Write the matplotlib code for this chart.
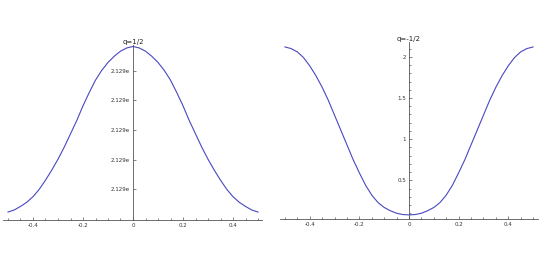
import matplotlib
matplotlib.use("Agg")
import matplotlib.pyplot as plt
from matplotlib.ticker import MultipleLocator

# x samples shared by both panels (step 0.025)
xs = [-0.5, -0.475, -0.45, -0.425, -0.4, -0.375, -0.35, -0.325, -0.3, -0.275,
      -0.25, -0.225, -0.2, -0.175, -0.15, -0.125, -0.1, -0.075, -0.05, -0.025,
      0.0,
      0.025, 0.05, 0.075, 0.1, 0.125, 0.15, 0.175, 0.2, 0.225, 0.25,
      0.275, 0.3, 0.325, 0.35, 0.375, 0.4, 0.425, 0.45, 0.475, 0.5]

# q=1/2 panel, values read relative to the tick positions (ticks sit at 1..5)
yPosHalf = [0.22, 0.29, 0.41, 0.55, 0.74, 0.99, 1.30, 1.64, 2.01, 2.42,
            2.87, 3.32, 3.82, 4.27, 4.69, 5.02, 5.29, 5.50, 5.67, 5.78]
yPos = yPosHalf + [5.83] + yPosHalf[::-1]
posTicks = [1, 2, 3, 4, 5]
posLabels = ["2.129e"] * 5

# q=-1/2 panel
yNegHalf = [2.12, 2.10, 2.06, 1.99, 1.89, 1.77, 1.63, 1.47, 1.29, 1.11,
            0.93, 0.75, 0.59, 0.44, 0.32, 0.23, 0.17, 0.13, 0.10, 0.084]
yNeg = yNegHalf + [0.08] + yNegHalf[::-1]
negTicks = [0.5, 1, 1.5, 2]
negLabels = ["0.5", "1", "1.5", "2"]

xTicks = [-0.4, -0.2, 0, 0.2, 0.4]
xLabels = ["-0.4", "-0.2", "0", "0.2", "0.4"]

lineColor = "#4848c0"
axisColor = "#555555"

W, H = 540, 270
fig = plt.figure(figsize=(W / 100, H / 100), dpi=100)


# make a sage-like axes with the axes crossing inside the plot
def sageAxes(px0, px1, py_top, py_bot, xlim, ylim, yvals, yticks, ylabels, title):
  ax = fig.add_axes([px0 / W, 1 - py_bot / H, (px1 - px0) / W, (py_bot - py_top) / H])
  ax.plot(xs, yvals, color=lineColor, linewidth=0.8)
  ax.set_xlim(xlim)
  ax.set_ylim(ylim)
  for side in ["top", "right"]:
    ax.spines[side].set_visible(False)
  ax.spines["left"].set_position(("data", 0))
  for side in ["left", "bottom"]:
    ax.spines[side].set_color(axisColor)
    ax.spines[side].set_linewidth(0.6)
  ax.set_xticks(xTicks)
  ax.set_xticklabels(xLabels)
  ax.set_yticks(yticks)
  ax.set_yticklabels(ylabels)
  ax.xaxis.set_minor_locator(MultipleLocator(0.05))
  ax.tick_params(axis="both", which="both", direction="in", colors=axisColor,
                 labelcolor="#333333", labelsize=4, width=0.5, pad=2)
  ax.tick_params(which="major", length=2.5)
  ax.tick_params(which="minor", length=1.2)
  ax.patch.set_alpha(0)
  ax.text(0, ylim[1], title, ha="center", va="bottom", fontsize=5, color="#222222")
  return ax


sageAxes(3, 262, 45, 220, (-0.52, 0.516), (-0.05, 5.88), yPos, posTicks, posLabels, "q=1/2")
right = sageAxes(280, 538, 42, 219, (-0.52, 0.52), (0.03, 2.18), yNeg, negTicks, negLabels, "q=-1/2")
right.yaxis.set_minor_locator(MultipleLocator(0.1))

fig.savefig("out.png", dpi=100)
